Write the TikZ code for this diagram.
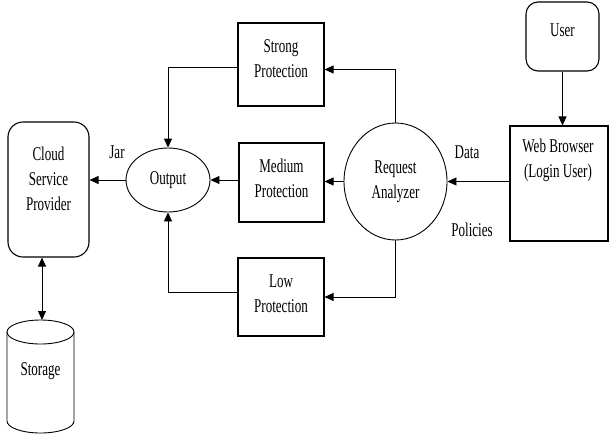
\documentclass[tikz,border=0pt]{standalone}
\usepackage{fontspec}
\setmainfont{Liberation Serif}[FakeStretch=0.67]
\usetikzlibrary{shapes.geometric,arrows.meta}
\begin{document}
\begin{tikzpicture}[x=1pt,y=-1pt,
  every node/.style={font=\fontsize{19.5}{25}\selectfont, align=center, inner sep=0pt},
  box/.style={draw, line width=1.1pt},
  rbox/.style={draw, line width=1.1pt, rounded corners=12pt},
  oval/.style={draw, ellipse, line width=0.9pt},
  conn/.style={line width=0.9pt},
  arr/.style={conn, -{Triangle[length=9pt,width=8pt]}},
  darr/.style={conn, {Triangle[length=9pt,width=8pt]}-{Triangle[length=9pt,width=8pt]}}
]
\useasboundingbox (0,0) rectangle (609,434);
% nodes
\node[rbox, minimum width=73pt, minimum height=69pt] (user) at (562.5,36.5) {};
\node at (562.5,30) {User};
\node[box, minimum width=98pt, minimum height=115pt] (web) at (559,183.5) {};
\node (webtxt) at (558,160) {Web Browser\\(Login User)};
\node[oval, minimum width=103pt, minimum height=117pt] (ra) at (395.5,181.5) {Request\\Analyzer};
\node[box, minimum width=86pt, minimum height=83pt] (strong) at (281,64.5) {};
\node at (281,59) {Strong\\Protection};
\node[box, minimum width=85pt, minimum height=79pt] (medium) at (281.5,182.5) {};
\node at (281.5,178) {Medium\\Protection};
\node[box, minimum width=86pt, minimum height=78pt] (low) at (281,297) {};
\node at (281,294) {Low\\Protection};
\node[oval, minimum width=84pt, minimum height=64pt] (output) at (168,180) {Output};
\node[rbox, rounded corners=15pt, minimum width=81pt, minimum height=135pt] (cloud) at (48.5,189.5) {};
\node at (48.5,179) {Cloud\\Service\\Provider};
% storage cylinder
\draw[line width=0.9pt] (7,332) -- (7,421) arc[start angle=180,end angle=360,x radius=33.5,y radius=-12] -- (74,332);
\draw[line width=0.9pt] (40.5,332) ellipse [x radius=33.5, y radius=12];
\coordinate (stortop) at (42,320);
\node (storage) at (40.5,371) {Storage};
% labels
\node (jar) at (117,152) {Jar};
\node (data) at (467,152) {Data};
\node (pol) at (472,230) {Policies};
% connectors
\draw[arr] (user.south) -- (user.south |- web.north);
\draw[arr] (web.west |- ra.east) -- (ra.east);
\draw[arr] (ra.north) |- ([yshift=-5pt]strong.east);
\draw[arr] (ra.west) -- (medium.east |- ra.west);
\draw[arr] (ra.south) |- (low.east);
\draw[arr] (medium.west |- output.east) -- (output.east);
\draw[arr] ([yshift=-3pt]strong.west) -| (output.north);
\draw[arr] ([yshift=5pt]low.west) -| (output.south);
\draw[arr] (output.west) -- (cloud.east |- output.west);
\draw[darr] (cloud.south -| stortop) -- (stortop);
\end{tikzpicture}
\end{document}
